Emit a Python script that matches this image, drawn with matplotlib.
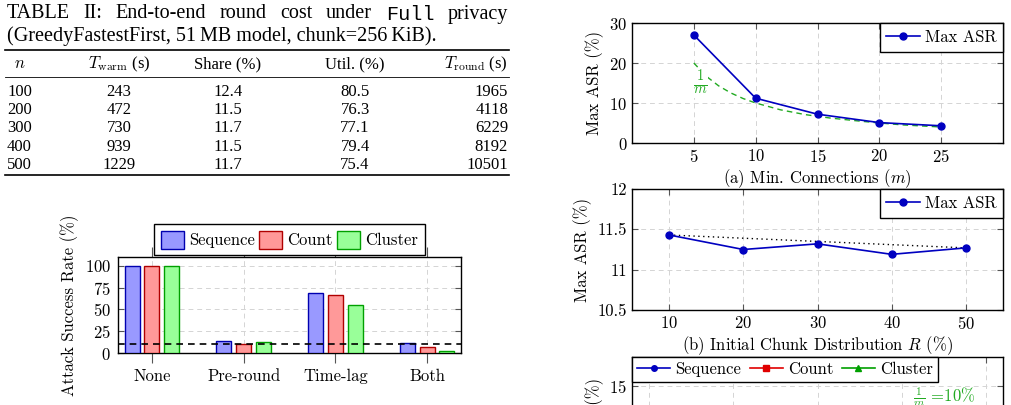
import numpy as np
import matplotlib
matplotlib.use('Agg')
import matplotlib.pyplot as plt

plt.rcParams['font.family'] = 'cmr10'
plt.rcParams['mathtext.fontset'] = 'cm'
plt.rcParams['axes.unicode_minus'] = False
plt.rcParams['axes.formatter.use_mathtext'] = True

W, H = 1011, 405

# table II
table_header = ['$n$', '$T_{\\mathrm{warm}}$ (s)', 'Share (%)', 'Util. (%)', '$T_{\\mathrm{round}}$ (s)']
n_nodes = ['100', '200', '300', '400', '500']
t_warm = ['243', '472', '730', '939', '1229']
share = ['12.4', '11.5', '11.7', '11.5', '11.7']
util = ['80.5', '76.3', '77.1', '79.4', '75.4']
t_round = ['1965', '4118', '6229', '8192', '10501']

# attack success rate per defense
defenses = ['None', 'Pre-round', 'Time-lag', 'Both']
asr_sequence = [100, 14, 69, 11]
asr_count = [100, 10, 66, 7]
asr_cluster = [100, 13, 55, 2]
random_guess = 10

# (a) min connections
min_conn = [5, 10, 15, 20, 25]
max_asr_m = [27.0, 11.2, 7.2, 5.1, 4.3]
bound_m = [5, 6, 7, 8, 9, 10, 12, 14, 16, 18, 20, 22, 25]
bound_asr = [20.0, 16.7, 14.3, 12.5, 11.1, 10.0, 8.3, 7.1, 6.25, 5.6, 5.0, 4.5, 4.0]

# (b) initial chunk distribution
init_dist = [10, 20, 30, 40, 50]
max_asr_r = [11.43, 11.25, 11.32, 11.19, 11.27]

# (c) only the top of it is in view
c_xticks = [1, 2, 3, 4, 5]
c_yticks = [0, 5, 10, 15]


def px_box(left, top, right, bottom):
    return [left / W, 1 - bottom / H, (right - left) / W, (bottom - top) / H]


blue = '#0000c0'
green = '#22aa22'
grid_kw = dict(ls=(0, (5, 4)), color='#d4d4d4', lw=0.7)

fig = plt.figure(figsize=(W / 100, H / 100), dpi=100)
renderer = fig.canvas.get_renderer()

# ---- table drawn on a page-sized axes in pixel units
page = fig.add_axes([0, 0, 1, 1])
page.set_xlim(0, W)
page.set_ylim(H, 0)
page.axis('off')

cap_size = 14.5
words = ['TABLE', 'II:', 'End-to-end', 'round', 'cost', 'under', 'Full', 'privacy']
word_texts = []
for w in words:
    fam = 'Liberation Mono' if w == 'Full' else 'Liberation Serif'
    word_texts.append(page.text(0, 14, w, family=fam, fontsize=cap_size, va='center'))
# justify the first caption line between x=7 and x=508
widths = [t.get_window_extent(renderer).width for t in word_texts]
gap = (508 - 7 - sum(widths)) / (len(words) - 1)
xpos = 7
for t, wd in zip(word_texts, widths):
    t.set_x(xpos)
    xpos += wd + gap
page.text(7, 36, '(GreedyFastestFirst, 51\u2009MB model, chunk=256\u2009KiB).',
          family='Liberation Serif', fontsize=cap_size, va='center')

tab_kw = dict(family='Liberation Serif', fontsize=12, va='center')
col_x = [20, 119, 228, 355, 508]
col_ha = ['center', 'center', 'center', 'center', 'right']
for cx, ha, h in zip(col_x, col_ha, table_header):
    page.text(cx, 64, h, ha=ha, **tab_kw)
row_y = [92, 110, 128, 147, 165]
for i, ry in enumerate(row_y):
    vals = [n_nodes[i], t_warm[i], share[i], util[i], t_round[i]]
    for j, (cx, ha, v) in enumerate(zip(col_x, col_ha, vals)):
        if j == 0:
            page.text(7, ry, v, ha='left', **tab_kw)
        else:
            page.text(cx, ry, v, ha=ha, **tab_kw)
page.plot([5, 509], [50, 50], color='k', lw=1.2)
page.plot([5, 509], [77, 77], color='k', lw=0.6)
page.plot([5, 509], [175, 175], color='k', lw=1.2)

# ---- bar chart
ax = fig.add_axes(px_box(118, 257, 461, 353))
x = np.arange(len(defenses))
off, bw = 0.217, 0.163
ax.bar(x - off, asr_sequence, bw, color='#9999ff', edgecolor='#0000b0', lw=1.0, label='Sequence', zorder=3)
ax.bar(x, asr_count, bw, color='#ff9999', edgecolor='#b00000', lw=1.0, label='Count', zorder=3)
ax.bar(x + off, asr_cluster, bw, color='#99ff99', edgecolor='#00a000', lw=1.0, label='Cluster', zorder=3)
ax.axhline(random_guess, color='k', ls=(0, (4, 3)), lw=1.2, zorder=4)
ax.set_xlim(-0.37, 3.37)
ax.set_ylim(0, 110)
ax.set_yticks([0, 25, 50, 75, 100])
ax.set_xticks(x)
ax.set_xticklabels(defenses, fontsize=12)
ax.grid(True, **grid_kw)
ax.tick_params(axis='x', direction='out', top=True, length=7, width=0.8, color='#555', pad=4)
ax.tick_params(axis='y', direction='in', right=True, length=4, width=0.8, color='#555', labelsize=12, pad=5)
ax.set_ylabel('Attack Success Rate (%)', fontsize=12)
ax.legend(loc='lower center', bbox_to_anchor=(0.5, 1.0), ncol=3, fontsize=12, fancybox=False,
          edgecolor='k', framealpha=1, handlelength=1.4, handleheight=1.3, handletextpad=0.3,
          columnspacing=0.25, borderpad=0.4, borderaxespad=0.1)

# ---- (a)
axa = fig.add_axes(px_box(632, 23, 1003, 143))
axa.plot(min_conn, max_asr_m, color=blue, marker='o', ms=5, lw=1.2, label='Max ASR', zorder=3)
axa.plot(bound_m, bound_asr, color=green, ls=(0, (4, 3)), lw=1.0, zorder=2)
axa.text(5.5, 15.0, r'$\frac{1}{m}$', color=green, ha='center', va='center', fontsize=15,
         bbox=dict(facecolor='white', edgecolor='none', pad=0.5))
axa.set_xlim(0, 30)
axa.set_ylim(0, 30)
axa.set_xticks(min_conn)
axa.set_yticks([0, 10, 20, 30])
axa.grid(True, **grid_kw)
axa.set_xlabel('(a) Min. Connections ($m$)', fontsize=12, labelpad=2)
axa.set_ylabel('Max ASR (%)', fontsize=12)
axa.legend(loc='upper right', borderaxespad=0, fancybox=False, edgecolor='k', framealpha=1,
           fontsize=12, handlelength=2.0, handletextpad=0.3)

# ---- (b)
axb = fig.add_axes(px_box(632, 189, 1003, 310))
axb.plot(init_dist, max_asr_r, color=blue, marker='o', ms=5, lw=1.2, label='Max ASR', zorder=3)
axb.plot([init_dist[0], init_dist[-1]], [max_asr_r[0], max_asr_r[-1]], color='k', ls=(0, (1, 2.5)), lw=1.0, zorder=2)
axb.set_xlim(5, 55)
axb.set_ylim(10.5, 12)
axb.set_xticks(init_dist)
axb.set_yticks([10.5, 11, 11.5, 12])
axb.set_yticklabels(['10.5', '11', '11.5', '12'])
axb.grid(True, **grid_kw)
axb.set_xlabel('(b) Initial Chunk Distribution $R$ (%)', fontsize=12, labelpad=2)
axb.set_ylabel('Max ASR (%)', fontsize=12)
axb.legend(loc='upper right', borderaxespad=0, fancybox=False, edgecolor='k', framealpha=1,
           fontsize=12, handlelength=2.0, handletextpad=0.3)

# ---- (c)
axc = fig.add_axes(px_box(632, 357, 1003, 503))
axc.plot([], [], color=blue, marker='o', ms=4, lw=1.2, label='Sequence')
axc.plot([], [], color='#e00000', marker='s', ms=4, lw=1.2, label='Count')
axc.plot([], [], color='#00a000', marker='^', ms=4, lw=1.2, label='Cluster')
axc.text(4.13, 13.5, r'$\frac{1}{m}$ =10%', color=green, ha='left', va='center', fontsize=12)
axc.set_xlim(0.8, 5.2)
axc.set_ylim(0, 18.7)
axc.set_xticks(c_xticks)
axc.set_xticklabels([])
axc.set_yticks(c_yticks)
axc.grid(True, **grid_kw)
axc.set_ylabel('Max ASR (%)', fontsize=12)
axc.legend(loc='upper left', borderaxespad=0, fancybox=False, edgecolor='k', framealpha=1, ncol=3,
           fontsize=12, handlelength=2.0, handletextpad=0.3, columnspacing=0.5, borderpad=0.3)

for a in (axa, axb, axc):
    a.tick_params(direction='in', top=True, right=True, length=4, width=0.8, color='#555', labelsize=12)

for a in (ax, axa, axb, axc):
    for s in a.spines.values():
        s.set_linewidth(1.0)

fig.savefig('out.png', dpi=100)
